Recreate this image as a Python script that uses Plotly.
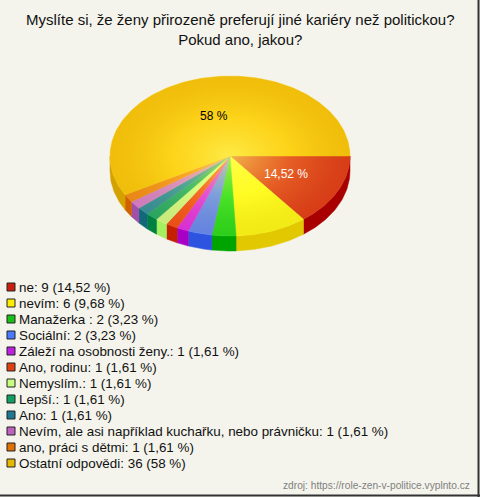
import numpy as np
import plotly.graph_objects as go

title_lines = ["Myslíte si, že ženy přirozeně preferují jiné kariéry než politickou?",
               "Pokud ano, jakou?"]
categories = ["ne", "nevím", "Manažerka ", "Sociální", "Záleží na osobnosti ženy.",
              "Ano, rodinu", "Nemyslím.", "Lepší.", "Ano",
              "Nevím, ale asi například kuchařku, nebo právničku",
              "ano, práci s dětmi", "Ostatní odpovědi"]
counts = [9, 6, 2, 2, 1, 1, 1, 1, 1, 1, 1, 36]
pct_labels = ["14,52 %", "9,68 %", "3,23 %", "3,23 %", "1,61 %", "1,61 %", "1,61 %",
              "1,61 %", "1,61 %", "1,61 %", "1,61 %", "58 %"]
legend_colors = ["#c8200c", "#ffee00", "#18c018", "#4a7aff", "#c020e0", "#e04010",
                 "#c8ff80", "#10a060", "#207890", "#c060c0", "#e07000", "#e8b800"]
top_colors = ["#e03a1a", "#ffff18", "#1ee01e", "#5e8aff", "#e02cf0", "#f44e1a",
              "#d0ff8c", "#1cb06c", "#2894a4", "#d480d4", "#f48e1a", "#fccc0c"]
side_colors = ["#a80000", "#e2c800", "#00a400", "#2c54e0", "#a800c4", "#c42000",
               "#a4f060", "#008040", "#106878", "#a050a8", "#d06000", "#d4a200"]
source_text = "zdroj: https://role-zen-v-politice.vyplnto.cz"

W, H = 480, 497
cx, cy, rx, ry, depth = 230, 156, 120, 80, 15
bg = "#f4f4ec"
FONT = "Liberation Sans, Arial"

fig = go.Figure()
total = sum(counts)
fr = np.cumsum([0] + counts) / total
angles = 2 * np.pi * fr


def arc(a, b, dy=0.0):
    n = max(3, int(abs(b - a) * 180 / np.pi) + 2)
    t = np.linspace(a, b, n)
    return cx + rx * np.cos(t), cy + dy + ry * np.sin(t)

# side faces (front half only)
for i in range(len(counts)):
    a, b = angles[i], angles[i + 1]
    lo, hi = max(a, 0), min(b, np.pi)
    if lo < hi:
        x1, y1 = arc(lo, hi)
        x2, y2 = arc(hi, lo, depth)
        fig.add_trace(go.Scatter(x=np.r_[x1, x2, x1[0]], y=np.r_[y1, y2, y1[0]],
                                 mode="lines", fill="toself", fillcolor=side_colors[i],
                                 line=dict(color=side_colors[i], width=0.5),
                                 hoverinfo="skip", showlegend=False))

# top faces
for i in range(len(counts)):
    a, b = angles[i], angles[i + 1]
    x1, y1 = arc(a, b)
    fig.add_trace(go.Scatter(x=np.r_[cx, x1, cx], y=np.r_[cy, y1, cy],
                             mode="lines", fill="toself", fillcolor=top_colors[i],
                             line=dict(color=top_colors[i], width=0.5),
                             hoverinfo="skip", showlegend=False))

# shading overlay
ex, ey = arc(0, 2 * np.pi)
fig.add_trace(go.Scatter(x=ex, y=ey, mode="lines", fill="toself",
                         line=dict(width=0, color="rgba(0,0,0,0)"),
                         fillgradient=dict(type="radial",
                                           colorscale=[[0, "rgba(255,255,110,0.6)"],
                                                       [0.5, "rgba(255,240,80,0.2)"],
                                                       [1, "rgba(150,80,0,0.12)"]]),
                         hoverinfo="skip", showlegend=False))

# slice labels
for i in range(len(counts)):
    if counts[i] / total > 0.10:
        m = (angles[i] + angles[i + 1]) / 2
        fig.add_annotation(x=cx + 0.52 * rx * np.cos(m), y=cy + 0.52 * ry * np.sin(m),
                           text=pct_labels[i], showarrow=False,
                           font=dict(size=12, color="white" if i == 0 else "black",
                                     family=FONT))

# legend
ly = [287 + 16 * i for i in range(len(categories))]
fig.add_trace(go.Scatter(x=[11] * len(categories), y=ly, mode="markers",
                         marker=dict(symbol="square", size=8, color=legend_colors,
                                     line=dict(color="#222", width=1)),
                         hoverinfo="skip", showlegend=False))
for i, c in enumerate(categories):
    fig.add_annotation(x=17, y=ly[i], xanchor="left", yanchor="middle",
                       text=f"{c}: {counts[i]} ({pct_labels[i]})", showarrow=False,
                       font=dict(size=13.4, color="#111", family=FONT))

fig.add_annotation(x=240, y=29, text="<br>".join(title_lines), showarrow=False,
                   xanchor="center", yanchor="middle",
                   font=dict(size=15, color="#111", family=FONT))
fig.add_annotation(x=472, y=485, text=source_text, showarrow=False,
                   xanchor="right", yanchor="middle",
                   font=dict(size=10.2, color="#808080", family=FONT))

fig.add_shape(type="line", x0=478.5, x1=478.5, y0=0, y1=497,
              line=dict(color="#333", width=2))
fig.add_shape(type="line", x0=0, x1=480, y0=495.5, y1=495.5,
              line=dict(color="#333", width=2))

fig.update_layout(width=W, height=H, margin=dict(l=0, r=0, t=0, b=0),
                  paper_bgcolor=bg, plot_bgcolor=bg, showlegend=False,
                  xaxis=dict(range=[0, W], visible=False, fixedrange=True),
                  yaxis=dict(range=[H, 0], visible=False, fixedrange=True))
fig.write_html("out.html", config={"displayModeBar": False},
               post_script="document.body.style.margin='0';"
                           "document.body.style.background='" + bg + "';")
